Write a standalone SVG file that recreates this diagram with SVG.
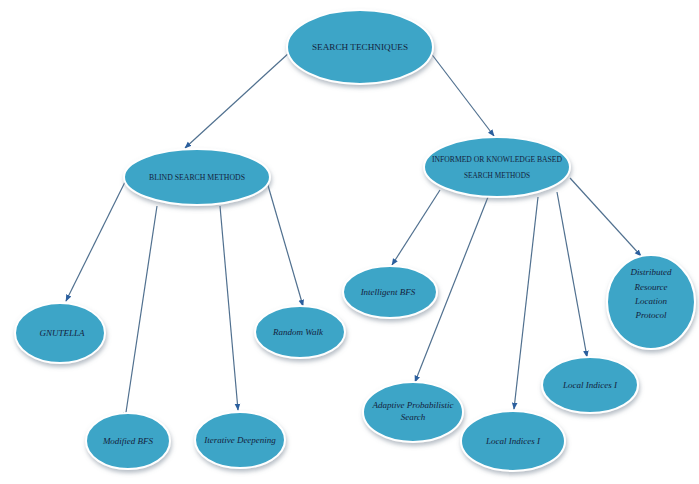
<svg xmlns="http://www.w3.org/2000/svg" width="699" height="484" viewBox="0 0 699 484">
<style>
.n{fill:#3ea5c7;stroke:#ffffff;stroke-width:2;filter:url(#sh)}
.t{font-family:"Liberation Serif",serif;fill:#14233d;text-anchor:middle;font-size:9px}
.i{font-style:italic}
.c{stroke:#50708f;stroke-width:1.2;fill:none;marker-end:url(#ah)}
</style>
<defs>
<marker id="ah" viewBox="0 0 10 10" refX="9" refY="5" markerWidth="7" markerHeight="7" orient="auto" markerUnits="userSpaceOnUse">
<path d="M0,1 L10,5 L0,9 z" fill="#2b5f9e"/>
</marker>
<filter id="sh" x="-20%" y="-20%" width="140%" height="150%">
<feDropShadow dx="1" dy="3" stdDeviation="2" flood-color="#6f7f8f" flood-opacity="0.5"/>
</filter>
</defs>
<rect width="699" height="484" fill="#ffffff"/>
<g id="connectors">
<line class="c" x1="290" y1="52" x2="185" y2="148"/>
<line class="c" x1="430" y1="52" x2="494" y2="136"/>
<line class="c" x1="125" y1="182" x2="66" y2="301"/>
<line class="c" x1="157" y1="206" x2="125" y2="419"/>
<line class="c" x1="220" y1="206" x2="238" y2="410"/>
<line class="c" x1="267" y1="182" x2="303" y2="306"/>
<line class="c" x1="440" y1="190" x2="392" y2="265"/>
<line class="c" x1="488" y1="197" x2="415" y2="382"/>
<line class="c" x1="538" y1="197" x2="514" y2="409"/>
<line class="c" x1="557" y1="192" x2="587" y2="357"/>
<line class="c" x1="570" y1="178" x2="641" y2="256"/>
</g>
<g id="search-techniques">
<ellipse class="n" cx="360" cy="47" rx="73" ry="37"/>
<text class="t" x="360" y="50" font-size="10" textLength="96" lengthAdjust="spacingAndGlyphs">SEARCH TECHNIQUES</text>
</g>
<g id="blind-search">
<ellipse class="n" cx="197" cy="177" rx="73" ry="28"/>
<text class="t" x="197" y="180" textLength="96" lengthAdjust="spacingAndGlyphs">BLIND SEARCH METHODS</text>
</g>
<g id="informed-search">
<ellipse class="n" cx="497" cy="167" rx="73" ry="30"/>
<text class="t" x="497" y="162" textLength="130" lengthAdjust="spacingAndGlyphs">INFORMED OR KNOWLEDGE BASED</text>
<text class="t" x="497" y="178" textLength="66" lengthAdjust="spacingAndGlyphs">SEARCH METHODS</text>
</g>
<g id="gnutella">
<ellipse class="n" cx="60" cy="333" rx="45" ry="30"/>
<text class="t i" x="62" y="336" font-size="8">GNUTELLA</text>
</g>
<g id="modified-bfs">
<ellipse class="n" cx="128" cy="441" rx="42" ry="28"/>
<text class="t i" x="128" y="444" font-size="8">Modified BFS</text>
</g>
<g id="iterative-deepening">
<ellipse class="n" cx="240" cy="440" rx="45" ry="28"/>
<text class="t i" x="240" y="443" font-size="8">Iterative Deepening</text>
</g>
<g id="random-walk">
<ellipse class="n" cx="300" cy="332" rx="45" ry="26"/>
<text class="t i" x="298" y="335" font-size="8">Random Walk</text>
</g>
<g id="intelligent-bfs">
<ellipse class="n" cx="390" cy="292" rx="47" ry="26"/>
<text class="t i" x="388" y="295" font-size="8">Intelligent BFS</text>
</g>
<g id="adaptive-probabilistic">
<ellipse class="n" cx="413" cy="412" rx="50" ry="30"/>
<text class="t i" x="413" y="408" font-size="8">Adaptive Probabilistic</text>
<text class="t i" x="413" y="420" font-size="8">Search</text>
</g>
<g id="local-indices-bottom">
<ellipse class="n" cx="513" cy="441" rx="52" ry="30"/>
<text class="t i" x="513" y="444" font-size="8">Local Indices I</text>
</g>
<g id="local-indices-right">
<ellipse class="n" cx="590" cy="385" rx="48" ry="28"/>
<text class="t i" x="590" y="388" font-size="8">Local Indices I</text>
</g>
<g id="distributed">
<ellipse class="n" cx="651" cy="302" rx="44" ry="47"/>
<text class="t i" x="651" y="275" font-size="8">Distributed</text>
<text class="t i" x="651" y="290" font-size="8">Resource</text>
<text class="t i" x="651" y="304" font-size="8">Location</text>
<text class="t i" x="651" y="318" font-size="8">Protocol</text>
</g>
</svg>
